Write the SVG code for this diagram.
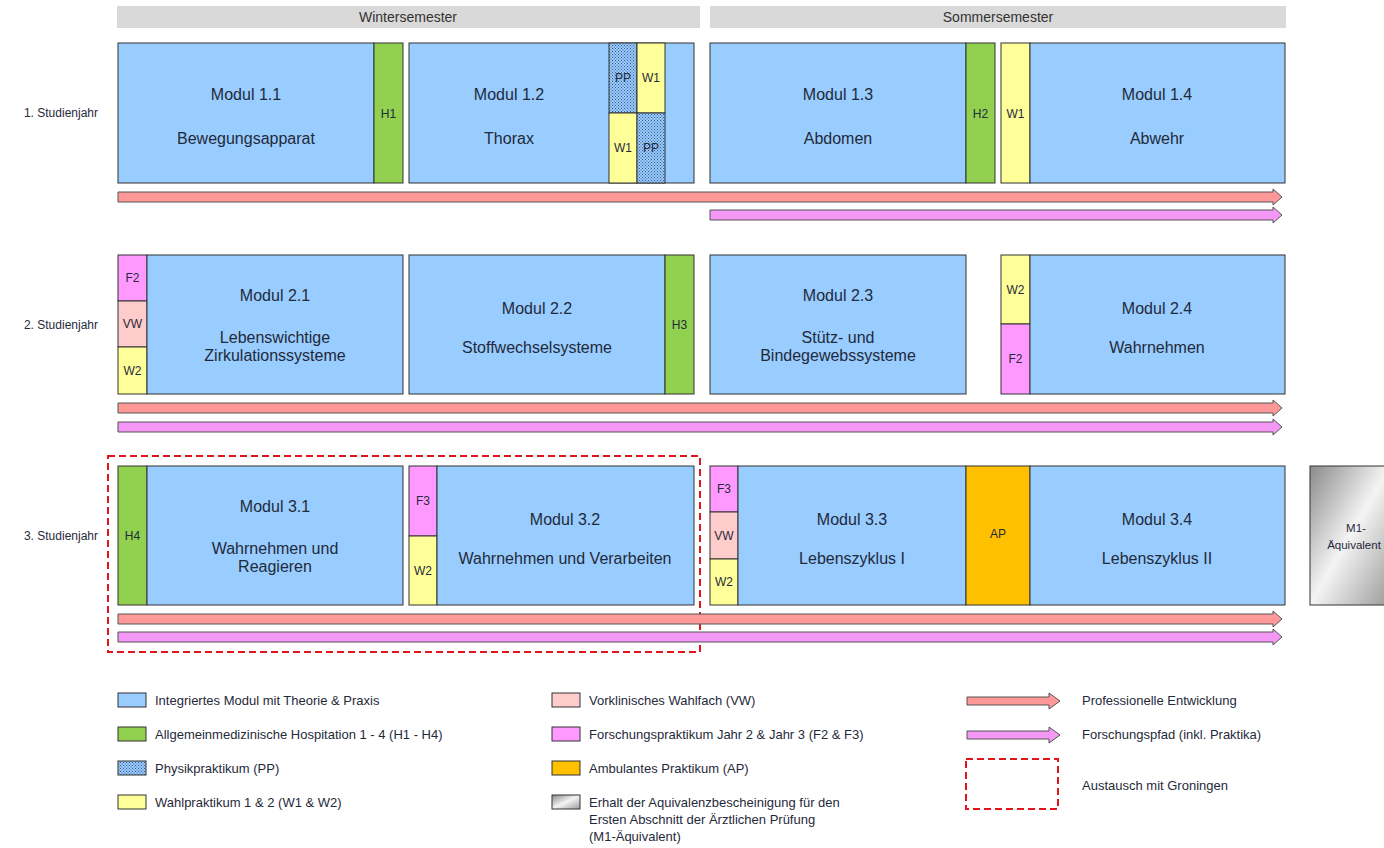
<svg xmlns="http://www.w3.org/2000/svg" width="1384" height="848" viewBox="0 0 1384 848">
<defs>
<pattern id="dots" width="3" height="3" patternUnits="userSpaceOnUse">
<rect width="3" height="3" fill="#99ccff"/>
<rect x="0" y="0" width="1" height="1" fill="#3a5a8c"/>
<rect x="1.5" y="1.5" width="1" height="1" fill="#3a5a8c"/>
</pattern>
<linearGradient id="gray" x1="0" y1="0" x2="1" y2="1">
<stop offset="0" stop-color="#8a8a8a"/>
<stop offset="0.5" stop-color="#f4f4f4"/>
<stop offset="1" stop-color="#9a9a9a"/>
</linearGradient>
</defs>
<style>
text{font-family:"Liberation Sans",Arial,sans-serif;fill:#1f2a3a}
.m{font-size:16px;text-anchor:middle}
.s{font-size:12px;text-anchor:middle}
.h{font-size:14px;text-anchor:middle;fill:#333}
.r{font-size:12px;text-anchor:end}
.l{font-size:13px}
.b{stroke:#333;stroke-width:1}
.blue{fill:#99ccff}
.green{fill:#92d050}
.yel{fill:#ffff99}
.vw{fill:#ffcccc}
.mag{fill:#ff99ff}
.ap{fill:#ffc000}
.pp{fill:url(#dots)}
.pa{fill:#ff9999;stroke:#555;stroke-width:1}
.ma{fill:#f598f5;stroke:#555;stroke-width:1}
.dash{fill:none;stroke:#e0161d;stroke-width:2;stroke-dasharray:7,4}
</style>
<rect width="1384" height="848" fill="#ffffff"/>

<g id="headers">
<rect x="117" y="6" width="583" height="22" fill="#d9d9d9"/>
<text class="h" x="408" y="22">Wintersemester</text>
<rect x="710" y="6" width="576" height="22" fill="#d9d9d9"/>
<text class="h" x="998" y="22">Sommersemester</text>
</g>

<g id="rowlabels">
<text class="r" x="98" y="117">1. Studienjahr</text>
<text class="r" x="98" y="329">2. Studienjahr</text>
<text class="r" x="98" y="540">3. Studienjahr</text>
</g>

<!-- Row 1 -->
<g id="modul11">
<rect class="b blue" x="118" y="43" width="256" height="140"/>
<text class="m" x="246" y="100">Modul 1.1</text>
<text class="m" x="246" y="144">Bewegungsapparat</text>
</g>
<g id="h1">
<rect class="b green" x="374" y="43" width="29" height="140"/>
<text class="s" x="388.5" y="118">H1</text>
</g>
<g id="modul12">
<rect class="b blue" x="409" y="43" width="285" height="140"/>
<text class="m" x="509" y="100">Modul 1.2</text>
<text class="m" x="509" y="144">Thorax</text>
<rect class="b pp" x="609" y="43" width="28" height="70"/>
<text class="s" x="623" y="82">PP</text>
<rect class="b yel" x="637" y="43" width="28" height="70"/>
<text class="s" x="651" y="82">W1</text>
<rect class="b yel" x="609" y="113" width="28" height="70"/>
<text class="s" x="623" y="152">W1</text>
<rect class="b pp" x="637" y="113" width="28" height="70"/>
<text class="s" x="651" y="152">PP</text>
</g>
<g id="modul13">
<rect class="b blue" x="710" y="43" width="256" height="140"/>
<text class="m" x="838" y="100">Modul 1.3</text>
<text class="m" x="838" y="144">Abdomen</text>
</g>
<g id="h2">
<rect class="b green" x="966" y="43" width="29" height="140"/>
<text class="s" x="980.5" y="118">H2</text>
</g>
<g id="w1b">
<rect class="b yel" x="1001" y="43" width="29" height="140"/>
<text class="s" x="1015.5" y="118">W1</text>
</g>
<g id="modul14">
<rect class="b blue" x="1030" y="43" width="255" height="140"/>
<text class="m" x="1157" y="100">Modul 1.4</text>
<text class="m" x="1157" y="144">Abwehr</text>
</g>

<!-- Row 2 -->
<g id="row2left">
<rect class="b mag" x="118" y="255" width="29" height="46"/>
<text class="s" x="132.5" y="282">F2</text>
<rect class="b vw" x="118" y="301" width="29" height="46"/>
<text class="s" x="132.5" y="328">VW</text>
<rect class="b yel" x="118" y="347" width="29" height="47"/>
<text class="s" x="132.5" y="375">W2</text>
</g>
<g id="modul21">
<rect class="b blue" x="147" y="255" width="256" height="139"/>
<text class="m" x="275" y="301">Modul 2.1</text>
<text class="m" x="275" y="343">Lebenswichtige</text>
<text class="m" x="275" y="361">Zirkulationssysteme</text>
</g>
<g id="modul22">
<rect class="b blue" x="409" y="255" width="256" height="139"/>
<text class="m" x="537" y="314">Modul 2.2</text>
<text class="m" x="537" y="353">Stoffwechselsysteme</text>
</g>
<g id="h3">
<rect class="b green" x="665" y="255" width="29" height="139"/>
<text class="s" x="679.5" y="329">H3</text>
</g>
<g id="modul23">
<rect class="b blue" x="710" y="255" width="256" height="139"/>
<text class="m" x="838" y="301">Modul 2.3</text>
<text class="m" x="838" y="343">Stütz- und</text>
<text class="m" x="838" y="361">Bindegewebssysteme</text>
</g>
<g id="row2mid">
<rect class="b yel" x="1001" y="255" width="29" height="69"/>
<text class="s" x="1015.5" y="294">W2</text>
<rect class="b mag" x="1001" y="324" width="29" height="70"/>
<text class="s" x="1015.5" y="363">F2</text>
</g>
<g id="modul24">
<rect class="b blue" x="1030" y="255" width="255" height="139"/>
<text class="m" x="1157" y="314">Modul 2.4</text>
<text class="m" x="1157" y="353">Wahrnehmen</text>
</g>

<!-- Row 3 -->
<g id="h4">
<rect class="b green" x="118" y="466" width="29" height="139"/>
<text class="s" x="132.5" y="540">H4</text>
</g>
<g id="modul31">
<rect class="b blue" x="147" y="466" width="256" height="139"/>
<text class="m" x="275" y="512">Modul 3.1</text>
<text class="m" x="275" y="554">Wahrnehmen und</text>
<text class="m" x="275" y="572">Reagieren</text>
</g>
<g id="row3a">
<rect class="b mag" x="409" y="466" width="28" height="70"/>
<text class="s" x="423" y="505">F3</text>
<rect class="b yel" x="409" y="536" width="28" height="69"/>
<text class="s" x="423" y="575">W2</text>
</g>
<g id="modul32">
<rect class="b blue" x="437" y="466" width="257" height="139"/>
<text class="m" x="565" y="525">Modul 3.2</text>
<text class="m" x="565" y="564">Wahrnehmen und Verarbeiten</text>
</g>
<g id="row3b">
<rect class="b mag" x="710" y="466" width="28" height="46"/>
<text class="s" x="724" y="493">F3</text>
<rect class="b vw" x="710" y="512" width="28" height="47"/>
<text class="s" x="724" y="540">VW</text>
<rect class="b yel" x="710" y="559" width="28" height="46"/>
<text class="s" x="724" y="586">W2</text>
</g>
<g id="modul33">
<rect class="b blue" x="738" y="466" width="228" height="139"/>
<text class="m" x="852" y="525">Modul 3.3</text>
<text class="m" x="852" y="564">Lebenszyklus I</text>
</g>
<g id="ap">
<rect class="b ap" x="966" y="466" width="64" height="139"/>
<text class="s" x="998" y="538">AP</text>
</g>
<g id="modul34">
<rect class="b blue" x="1030" y="466" width="255" height="139"/>
<text class="m" x="1157" y="525">Modul 3.4</text>
<text class="m" x="1157" y="564">Lebenszyklus II</text>
</g>
<g id="m1">
<rect x="1310" y="466" width="80" height="139" fill="url(#gray)" stroke="#333" stroke-width="1"/>
<text class="s" x="1356" y="532" style="font-size:11.5px">M1-</text>
<text class="s" x="1354" y="549" style="font-size:11.5px">Äquivalent</text>
</g>

<g id="groningen">
<rect class="dash" x="108" y="456" width="592" height="196"/>
</g>

<g id="connectors">
<polygon class="pa" points="118,192 1273,192 1273,189 1282,197 1273,205 1273,202 118,202"/>
<polygon class="ma" points="710,210 1273,210 1273,207 1282,215 1273,223 1273,220 710,220"/>
<polygon class="pa" points="118,403 1273,403 1273,400 1282,408 1273,416 1273,413 118,413"/>
<polygon class="ma" points="118,422 1273,422 1273,419 1282,427 1273,435 1273,432 118,432"/>
<polygon class="pa" points="118,614 1273,614 1273,611 1282,619 1273,627 1273,624 118,624"/>
<polygon class="ma" points="118,632 1273,632 1273,629 1282,637 1273,645 1273,642 118,642"/>
</g>

<g id="legend">
<rect class="b blue" x="118" y="693" width="28" height="14"/>
<text class="l" x="155" y="705">Integriertes Modul mit Theorie &amp; Praxis</text>
<rect class="b green" x="118" y="727" width="28" height="14"/>
<text class="l" x="155" y="739">Allgemeinmedizinische Hospitation 1 - 4 (H1 - H4)</text>
<rect class="b pp" x="118" y="761" width="28" height="14"/>
<text class="l" x="155" y="773">Physikpraktikum (PP)</text>
<rect class="b yel" x="118" y="795" width="28" height="14"/>
<text class="l" x="155" y="807">Wahlpraktikum 1 &amp; 2 (W1 &amp; W2)</text>

<rect class="b vw" x="552" y="693" width="28" height="14"/>
<text class="l" x="589" y="705">Vorklinisches Wahlfach (VW)</text>
<rect class="b mag" x="552" y="727" width="28" height="14"/>
<text class="l" x="589" y="739">Forschungspraktikum Jahr 2 &amp; Jahr 3 (F2 &amp; F3)</text>
<rect class="b ap" x="552" y="761" width="28" height="14"/>
<text class="l" x="589" y="773">Ambulantes Praktikum (AP)</text>
<rect x="552" y="795" width="28" height="14" fill="url(#gray)" stroke="#333"/>
<text class="l" x="589" y="807">Erhalt der Aquivalenzbescheinigung für den</text>
<text class="l" x="589" y="824">Ersten Abschnitt der Ärztlichen Prüfung</text>
<text class="l" x="589" y="841">(M1-Äquivalent)</text>

<polygon class="pa" points="967,697 1049,697 1049,693 1060,701 1049,709 1049,705 967,705"/>
<text class="l" x="1082" y="705">Professionelle Entwicklung</text>
<polygon class="ma" points="967,731 1049,731 1049,727 1060,735 1049,743 1049,739 967,739"/>
<text class="l" x="1082" y="739">Forschungspfad (inkl. Praktika)</text>
<rect class="dash" x="966" y="759" width="92" height="50"/>
<text class="l" x="1082" y="790">Austausch mit Groningen</text>
</g>
</svg>
